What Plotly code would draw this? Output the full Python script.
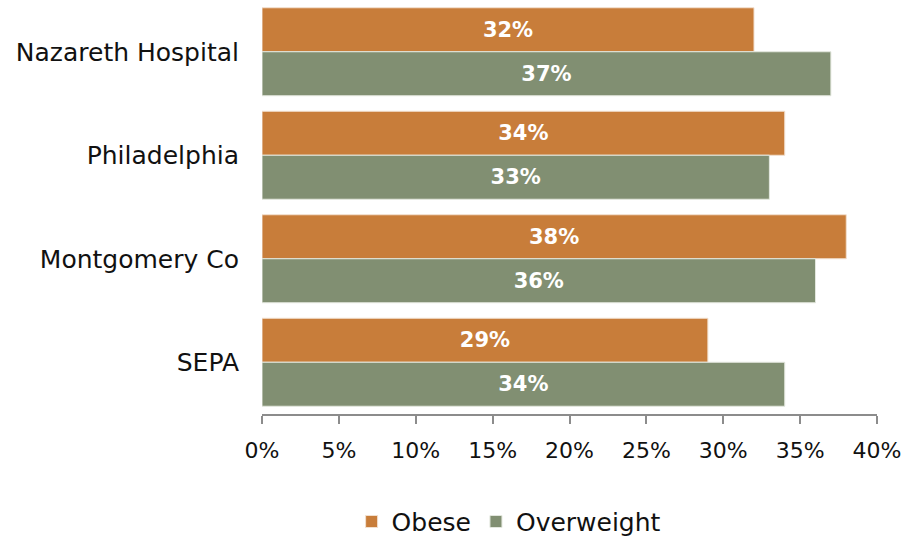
import plotly.graph_objects as go

categories = ["Nazareth Hospital", "Philadelphia", "Montgomery Co", "SEPA"]
obese = [32, 34, 38, 29]
overweight = [37, 33, 36, 34]
x_ticks = [0, 5, 10, 15, 20, 25, 30, 35, 40]

FONT = "DejaVu Sans"

fig = go.Figure()
fig.add_trace(go.Bar(
    y=categories, x=obese, name="Obese", orientation="h",
    marker=dict(color="#C87D3A", line=dict(color="#F2E0CF", width=1)),
    text=[f"{v}%" for v in obese], textposition="inside", insidetextanchor="middle",
    textfont=dict(color="white", size=21, family=FONT, weight="bold"),
))
fig.add_trace(go.Bar(
    y=categories, x=overweight, name="Overweight", orientation="h",
    marker=dict(color="#818F72", line=dict(color="#E3E7DE", width=1)),
    text=[f"{v}%" for v in overweight], textposition="inside", insidetextanchor="middle",
    textfont=dict(color="white", size=21, family=FONT, weight="bold"),
))

fig.update_layout(
    width=905, height=539,
    barmode="group", bargap=0.15, bargroupgap=0.0,
    margin=dict(l=262, r=28, t=0, b=125),
    paper_bgcolor="white", plot_bgcolor="white",
    font=dict(family=FONT, size=25, color="#111111"),
    xaxis=dict(range=[0, 40], tickvals=x_ticks, ticktext=[f"{t}%" for t in x_ticks],
               showgrid=False, zeroline=False, showline=True, linecolor="#8C8C8C", linewidth=2,
               ticks="outside", ticklen=8, tickwidth=2, tickcolor="#8C8C8C",
               ticklabelstandoff=8, tickfont=dict(size=22), automargin=False, fixedrange=True),
    yaxis=dict(autorange="reversed", showgrid=False, zeroline=False, showline=False,
               ticks="", ticklabelstandoff=22, tickfont=dict(size=25), automargin=False,
               fixedrange=True),
    legend=dict(orientation="h", xref="container", yref="container",
                x=0.562, xanchor="center", y=0.032, yanchor="middle",
                font=dict(size=25), traceorder="normal", itemwidth=30),
    showlegend=True,
)

fig.write_html("out.html", config={"displayModeBar": False},
               post_script="document.body.style.margin='0';document.body.style.padding='0';")
